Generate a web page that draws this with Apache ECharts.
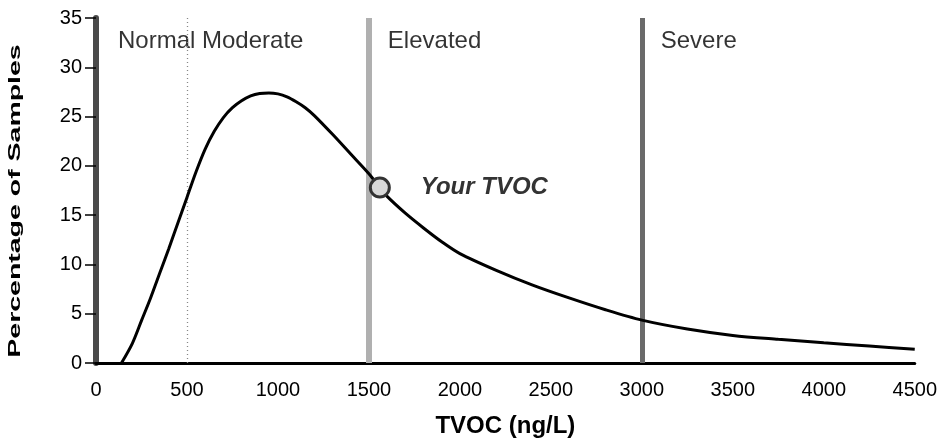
<!DOCTYPE html>
<html>
<head>
<meta charset="utf-8">
<script src="https://cdn.jsdelivr.net/npm/echarts@6/dist/echarts.min.js"></script>
<style>
  html, body { margin: 0; padding: 0; background: #fff; }
  #main { width: 940px; height: 443px; }
</style>
</head>
<body>
<div id="main"></div>
<script>
// distribution curve
var tvocX = [140, 200, 250, 300, 350, 400, 450, 500, 550, 600, 650, 700, 750, 800, 850, 900, 950, 1000,
    1050, 1100, 1150, 1200, 1300, 1400, 1500, 1560, 1600, 1700, 1800, 1900, 2000, 2200, 2400, 2600,
    2800, 3000, 3250, 3500, 3750, 4000, 4250, 4500];
var pctY = [0, 2.0, 4.3, 6.6, 9.1, 11.6, 14.2, 16.8, 19.4, 21.7, 23.5, 24.9, 25.9, 26.6, 27.1, 27.35, 27.4, 27.3,
    27.0, 26.5, 25.9, 25.1, 23.2, 21.2, 19.2, 17.8, 16.9, 15.2, 13.7, 12.3, 11.1, 9.4, 7.9, 6.6,
    5.4, 4.35, 3.45, 2.8, 2.4, 2.05, 1.72, 1.4];

// band boundaries and labels
var bandNames = ['Normal Moderate', 'Elevated', 'Severe'];
var bandLabelX = [121, 1604, 3104];
var bandLabelY = 32.6;
var boundaryX = [1500, 3000];
var dottedX = [500];

// your reading
var yourTvoc = [1560, 17.8];
var yourLabel = 'Your TVOC';

var xTicks = [0, 500, 1000, 1500, 2000, 2500, 3000, 3500, 4000, 4500];

var curve = tvocX.map(function (x, i) { return [x, pctY[i]]; });
var bandPts = bandNames.map(function (n, i) { return { name: n, value: [bandLabelX[i], bandLabelY] }; });

var font = '"Liberation Sans", Arial, sans-serif';
var ink = '#000';
var myChart = echarts.init(document.getElementById('main'));
var option = {
    animation: false,
    textStyle: { fontFamily: font },
    grid: { left: 96, right: 25, top: 18, bottom: 79 },
    graphic: [{
        // y axis title, stretched along its length like the scan
        type: 'text',
        x: 16, y: 201,
        rotation: Math.PI / 2,
        scaleX: 1.78,
        silent: true,
        style: {
            text: 'Percentage of Samples',
            font: 'bold 16px ' + font,
            fill: ink,
            align: 'center',
            verticalAlign: 'middle'
        }
    }],
    xAxis: {
        type: 'value',
        min: xTicks[0], max: xTicks[xTicks.length - 1], interval: 500,
        name: 'TVOC (ng/L)',
        nameLocation: 'middle',
        nameGap: 51,
        nameTextStyle: { fontSize: 24, fontWeight: 'bold', color: ink, fontFamily: font },
        axisLine: { lineStyle: { color: ink, width: 3 } },
        axisTick: { show: false },
        axisLabel: {
            fontSize: 20, color: ink, margin: 17, fontFamily: font,
            formatter: function (v) { return String(v); }
        },
        splitLine: { show: false }
    },
    yAxis: {
        type: 'value',
        min: 0, max: 35, interval: 5,
        axisLine: { show: true, lineStyle: { color: '#4a4a4a', width: 6 } },
        axisTick: { show: true, length: 11, lineStyle: { color: ink, width: 1.5 } },
        axisLabel: { fontSize: 20, color: ink, margin: 14, fontFamily: font },
        splitLine: { show: false }
    },
    series: [
        {
            type: 'line',
            data: curve,
            smooth: 0.3,
            showSymbol: false,
            lineStyle: { color: ink, width: 3 },
            z: 5,
            markLine: {
                silent: true,
                symbol: 'none',
                label: { show: false },
                data: [
                    { xAxis: dottedX[0], lineStyle: { color: '#888', width: 1.3, type: [1, 3] } },
                    { xAxis: boundaryX[0], lineStyle: { color: '#b0b0b0', width: 6, type: 'solid' } },
                    { xAxis: boundaryX[1], lineStyle: { color: '#6a6a6a', width: 5, type: 'solid' } }
                ]
            }
        },
        {
            type: 'scatter',
            data: bandPts,
            symbolSize: 0,
            silent: true,
            label: {
                show: true,
                position: 'right',
                distance: 0,
                formatter: '{b}',
                fontSize: 24,
                color: ink,
                fontFamily: font
            }
        },
        {
            type: 'scatter',
            data: [{ name: yourLabel, value: yourTvoc }],
            symbol: 'circle',
            symbolSize: 19,
            silent: true,
            itemStyle: { color: '#d8d8d8', borderColor: '#333', borderWidth: 3, opacity: 1 },
            z: 10,
            label: {
                show: true,
                position: 'right',
                distance: 30,
                formatter: '{b}',
                fontSize: 24,
                fontStyle: 'italic',
                fontWeight: 'bold',
                color: '#333',
                fontFamily: font
            }
        }
    ]
};
myChart.setOption(option);
</script>
</body>
</html>
